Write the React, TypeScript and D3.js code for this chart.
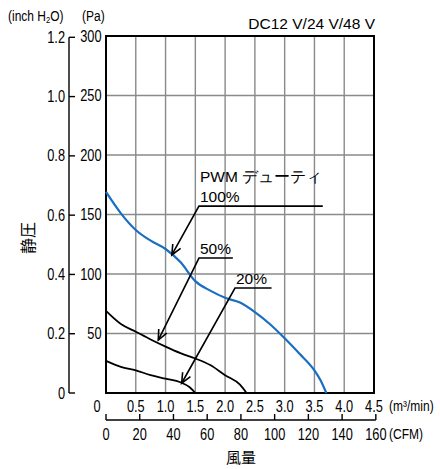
import React from "react";
import * as d3 from "d3";

const flowTicks = [0, 0.5, 1.0, 1.5, 2.0, 2.5, 3.0, 3.5, 4.0, 4.5];
const flowLabels = ["0", "0.5", "1.0", "1.5", "2.0", "2.5", "3.0", "3.5", "4.0", "4.5"];
const cfmTicks = [0, 20, 40, 60, 80, 100, 120, 140, 160];
const paTicks = [0, 50, 100, 150, 200, 250, 300];
const inchTicks = [0, 0.2, 0.4, 0.6, 0.8, 1.0, 1.2];
const inchLabels = ["0", "0.2", "0.4", "0.6", "0.8", "1.0", "1.2"];

// PWM 100% (blue)
const flow100 = [0, 0.25, 0.5, 0.75, 1.0, 1.25, 1.5, 1.75, 2.0, 2.25, 2.5, 2.75, 3.0, 3.25, 3.5, 3.6, 3.7];
const pa100 = [169, 151, 137, 128, 121, 110, 94, 86, 80, 76, 68, 58, 46, 33, 19, 11, 0];
// PWM 50%
const flow50 = [0, 0.25, 0.5, 0.75, 1.0, 1.25, 1.5, 1.75, 2.0, 2.25, 2.36];
const pa50 = [69, 58, 51.5, 45, 39, 33.5, 29, 23.5, 15, 7, 0];
// PWM 20%
const flow20 = [0, 0.25, 0.5, 0.75, 1.0, 1.25, 1.4, 1.5];
const pa20 = [27, 22, 19, 15, 12, 9, 5, 0];

// annotations: label text, elbow point, end of underline, arrow tip (data coords)
const annLabels = ["100%", "50%", "20%"];
const annElbowFlow = [1.561, 1.561, 2.166];
const annElbowPa = [157, 113.4, 88.2];
const annEndFlow = [3.64, 2.13, 2.78];
const annTipFlow = [1.105, 0.878, 1.27];
const annTipPa = [116, 44.5, 8.2];

const CFM_TO_M3 = 0.0283168;
const INCH_TO_PA = 249.089;

const SANS = "'Liberation Sans', Arial, sans-serif";
const BLUE = "#1a6ec2";

type NTProps = {
  x: number;
  y: number;
  anchor?: "start" | "middle" | "end";
  size?: number;
  children: React.ReactNode;
};

// condensed text (horizontally compressed sans)
function NText({ x, y, anchor = "start", size = 16, children }: NTProps) {
  return (
    <text
      transform={`translate(${x},${y}) scale(0.8,1)`}
      textAnchor={anchor}
      fontFamily={SANS}
      fontSize={size}
      fill="#000"
    >
      {children}
    </text>
  );
}

export default function App() {
  const W = 440, H = 469;
  const x = d3.scaleLinear().domain([0, 4.5]).range([106, 374]);
  const y = d3.scaleLinear().domain([0, 300]).range([393, 36]);

  const line = d3
    .line<[number, number]>()
    .x((d) => x(d[0]))
    .y((d) => y(d[1]))
    .curve(d3.curveMonotoneX);

  const zip = (a: number[], b: number[]) => a.map((v, i) => [v, b[i]] as [number, number]);

  const axisY = 69;
  const cfmY = 420;

  return (
    <svg width={W} height={H} style={{ position: "absolute", left: 0, top: 0, background: "#fff" }}>
      <rect x={0} y={0} width={W} height={H} fill="#fff" />
      {/* grid */}
      {flowTicks.slice(1, -1).map((t) => (
        <line key={"gx" + t} x1={x(t)} x2={x(t)} y1={y(300)} y2={y(0)} stroke="#8a8a8a" strokeWidth={1.4} />
      ))}
      {paTicks.slice(1, -1).map((t) => (
        <line key={"gy" + t} x1={x(0)} x2={x(4.5)} y1={y(t)} y2={y(t)} stroke="#8a8a8a" strokeWidth={1.4} />
      ))}
      <rect x={x(0)} y={y(300)} width={x(4.5) - x(0)} height={y(0) - y(300)} fill="none" stroke="#000" strokeWidth={2} />

      {/* curves */}
      <path d={line(zip(flow100, pa100)) || ""} fill="none" stroke={BLUE} strokeWidth={2.2} />
      <path d={line(zip(flow50, pa50)) || ""} fill="none" stroke="#000" strokeWidth={1.8} />
      <path d={line(zip(flow20, pa20)) || ""} fill="none" stroke="#000" strokeWidth={1.8} />

      {/* annotations */}
      {annLabels.map((lab, i) => {
        const ex = x(annElbowFlow[i]);
        const ey = y(annElbowPa[i]);
        const tx = x(annTipFlow[i]);
        const ty = y(annTipPa[i]);
        const ang = Math.atan2(ey - ty, ex - tx);
        const L = 11;
        const a1 = ang + 0.42;
        const a2 = ang - 0.42;
        return (
          <g key={lab}>
            <polyline
              points={`${x(annEndFlow[i])},${ey} ${ex},${ey} ${tx},${ty}`}
              fill="none"
              stroke="#000"
              strokeWidth={1.6}
            />
            <polyline
              points={`${tx + L * Math.cos(a1)},${ty + L * Math.sin(a1)} ${tx},${ty} ${tx + L * Math.cos(a2)},${ty + L * Math.sin(a2)}`}
              fill="none"
              stroke="#000"
              strokeWidth={1.6}
            />
            <text x={ex + 1} y={ey - 4} fontFamily={SANS} fontSize={15.5} fill="#000">
              {lab}
            </text>
          </g>
        );
      })}
      <text x={x(annElbowFlow[0]) + 1} y={182} fontFamily={SANS} fontSize={15.5} fill="#000">
        PWM デューティ
      </text>

      {/* left inch axis */}
      <line x1={axisY} x2={axisY} y1={y(inchTicks[6] * INCH_TO_PA)} y2={y(0)} stroke="#000" strokeWidth={1.4} />
      {inchTicks.map((t, i) => (
        <g key={"in" + t}>
          <line x1={axisY} x2={axisY + 6} y1={y(t * INCH_TO_PA)} y2={y(t * INCH_TO_PA)} stroke="#000" strokeWidth={1.4} />
          <NText x={65} y={y(t * INCH_TO_PA) + 5.5} anchor="end">
            {inchLabels[i]}
          </NText>
        </g>
      ))}
      {/* Pa labels */}
      {paTicks.slice(1).map((t) => (
        <NText key={"pa" + t} x={101.5} y={y(t) + 5.5} anchor="end">
          {t}
        </NText>
      ))}
      <NText x={8} y={21} size={15}>
        (inch H<tspan fontSize={9.5} dy={2}>2</tspan><tspan dy={-2}>O)</tspan>
      </NText>
      <NText x={82} y={21} size={15}>
        (Pa)
      </NText>
      <text x={375} y={29} textAnchor="end" fontFamily={SANS} fontSize={15.5} fill="#000">
        DC12 V/24 V/48 V
      </text>

      {/* flow labels m3/min */}
      {flowTicks.map((t, i) => (
        <NText key={"fx" + t} x={i === 0 ? 97 : x(t)} y={411.5} anchor="middle">
          {flowLabels[i]}
        </NText>
      ))}
      <NText x={389} y={411} size={15}>
        (m³/min)
      </NText>

      {/* CFM axis */}
      <line x1={x(0)} x2={x(160 * CFM_TO_M3)} y1={cfmY} y2={cfmY} stroke="#000" strokeWidth={1.4} />
      {cfmTicks.map((t) => (
        <g key={"cfm" + t}>
          <line x1={x(t * CFM_TO_M3)} x2={x(t * CFM_TO_M3)} y1={cfmY} y2={cfmY - 6} stroke="#000" strokeWidth={1.4} />
          <NText x={x(t * CFM_TO_M3)} y={440} anchor="middle">
            {t}
          </NText>
        </g>
      ))}
      <NText x={389} y={439} size={15}>
        (CFM)
      </NText>

      {/* axis titles */}
      <text x={241} y={463} textAnchor="middle" fontFamily="'Noto Sans CJK JP', sans-serif" fontSize={15} fill="#000">
        風量
      </text>
      <text
        transform="translate(34,238) rotate(-90)"
        textAnchor="middle"
        fontFamily="'Noto Sans CJK JP', sans-serif"
        fontSize={16}
        fill="#000"
      >
        静圧
      </text>
    </svg>
  );
}
